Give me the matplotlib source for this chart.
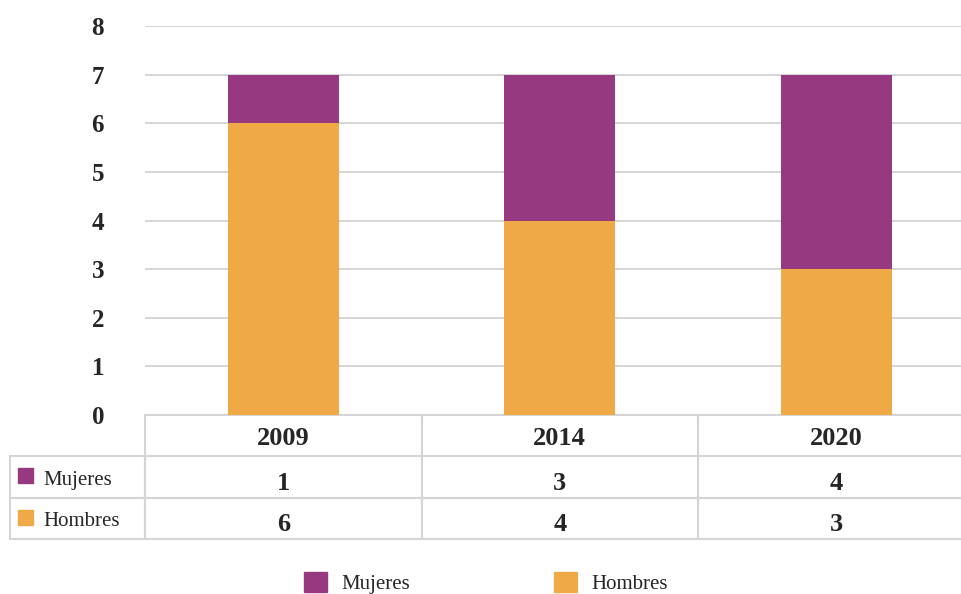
import matplotlib
matplotlib.use("Agg")
import matplotlib.pyplot as plt
from matplotlib.patches import Rectangle
from matplotlib.transforms import Affine2D

# data
years = ["2009", "2014", "2020"]
series = ["Mujeres", "Hombres"]
mujeres = [1, 3, 4]
hombres = [6, 4, 3]
colors = {"Mujeres": "#963980", "Hombres": "#EFAA47"}

plt.rcParams['font.family'] = ['Liberation Serif', 'DejaVu Serif']
txt_col = "#262626"
grid_col = "#d5d5d5"

W, H = 961, 594
fig = plt.figure(figsize=(W / 100, H / 100), dpi=100)

# axes in pixel units -> figure fraction (right edge runs past the canvas like the original)
ax_l, ax_r, ax_top, ax_bot = 145, 974.5, 26, 415
ax = fig.add_axes([ax_l / W, 1 - ax_bot / H, (ax_r - ax_l) / W, (ax_bot - ax_top) / H])

x = list(range(len(years)))
ax.bar(x, hombres, width=0.4, color=colors["Hombres"], zorder=2)
ax.bar(x, mujeres, width=0.4, bottom=hombres, color=colors["Mujeres"], zorder=2)

ax.set_xlim(-0.5, len(years) - 0.5)
ax.set_ylim(0, 8)
ax.set_yticks(range(0, 9))
ax.set_xticks([])
ax.yaxis.grid(True, color=grid_col, linewidth=1.4, zorder=0)
ax.set_axisbelow(True)
for s in ax.spines.values():
    s.set_visible(False)
ax.tick_params(axis='y', length=0, pad=29.5, labelsize=18, labelcolor=txt_col)
for lab in ax.get_yticklabels():
    lab.set_fontweight('bold')

# data table under the bars
ax_w = ax_r - ax_l
ax_h = ax_bot - ax_top
tbl_bottom = 539
cell_text = [[str(v) for v in mujeres], [str(v) for v in hombres]]
tb = ax.table(cellText=cell_text, rowLabels=series, colLabels=years,
              cellLoc='center', rowLoc='left',
              bbox=[0, -(tbl_bottom - ax_bot) / ax_h, 1, (tbl_bottom - ax_bot) / ax_h])
tb.auto_set_font_size(False)
tb._autoColumns = []
lab_w = (ax_l - 10) / ax_w
for (r, c), cell in tb.get_celld().items():
    cell.set_edgecolor(grid_col)
    cell.set_linewidth(1.5)
    cell.set_facecolor('none')
    t = cell.get_text()
    t.set_color(txt_col)
    if c == -1:
        cell.set_width(lab_w)
        cell.PAD = 33 / (ax_l - 10)
        t.set_fontsize(15)
        t.set_transform(Affine2D().translate(0, -3))
    else:
        t.set_fontsize(19)
        t.set_fontweight('bold')
        t.set_transform(Affine2D().translate(0, -3 if r == 0 else -6))

# little colour keys inside the row-label cells
for i, name in enumerate(series):
    y0 = 468 + i * 41.5
    fig.add_artist(Rectangle((18 / W, 1 - (y0 + 15) / H), 15 / W, 15 / H,
                             transform=fig.transFigure, color=colors[name]))

# legend at the bottom
handles = [Rectangle((0, 0), 1, 1, color=colors[n]) for n in series]
fig.legend(handles, series, loc='upper left', bbox_to_anchor=(304 / W, 1 - 572 / H),
           ncol=2, frameon=False, fontsize=15, handlelength=1.1, handleheight=1.1,
           handletextpad=0.7, columnspacing=6.9, borderpad=0, borderaxespad=0,
           labelcolor=txt_col)

fig.savefig("out.png", dpi=100)
